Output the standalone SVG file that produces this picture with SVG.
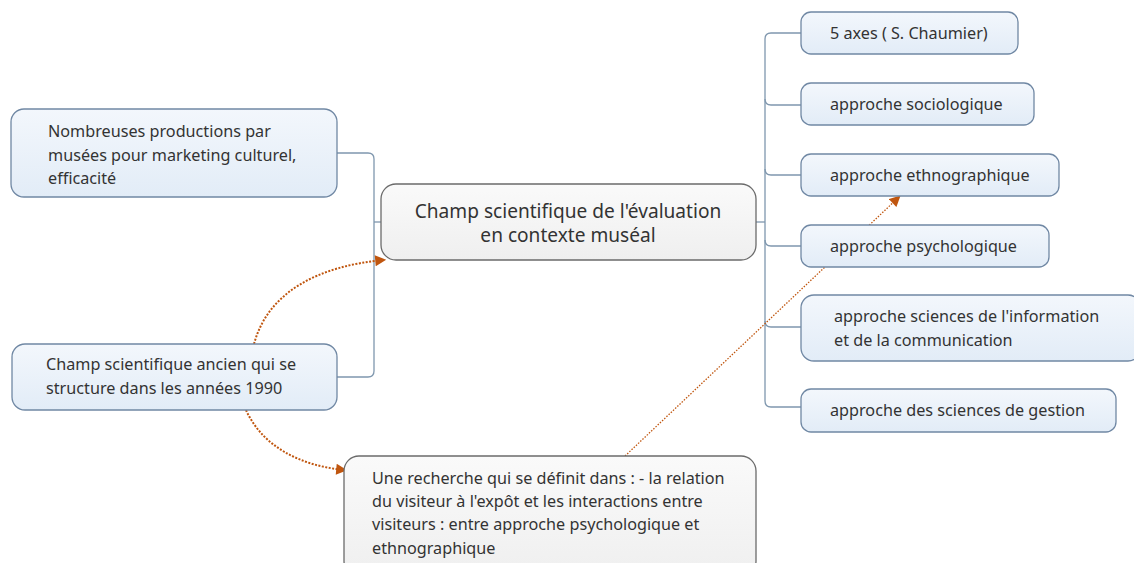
<svg xmlns="http://www.w3.org/2000/svg" width="1134" height="563" viewBox="0 0 1134 563">
<defs>
<linearGradient id="gBlue" x1="0" y1="0" x2="0" y2="1">
<stop offset="0" stop-color="#f3f7fc"/>
<stop offset="1" stop-color="#e2ecf7"/>
</linearGradient>
<linearGradient id="gGray" x1="0" y1="0" x2="0" y2="1">
<stop offset="0" stop-color="#fafafa"/>
<stop offset="1" stop-color="#efefef"/>
</linearGradient>
<marker id="arr" viewBox="0 0 10 10" refX="8" refY="5" markerWidth="12" markerHeight="11" orient="auto" markerUnits="userSpaceOnUse">
<path d="M0,0 L10,5 L0,10 z" fill="#c0560f"/>
</marker>
</defs>
<style>
.blue{fill:url(#gBlue);stroke:#7088a4;stroke-width:1.3}
.gray{fill:url(#gGray);stroke:#6b6b6b;stroke-width:1.3}
.t{font-family:"Noto Sans","Open Sans",sans-serif;font-size:16.2px;fill:#333}
.tc{font-family:"Noto Sans","Open Sans",sans-serif;font-size:19.1px;fill:#333;text-anchor:middle}
.ln{fill:none;stroke:#7f97ae;stroke-width:1.3}
.rel{fill:none;stroke:#c0560f;stroke-width:2;stroke-dasharray:2 1.5}
.relt{fill:none;stroke:#c0560f;stroke-width:1.3;stroke-dasharray:1.5 1.5}
</style>
<rect width="1134" height="563" fill="#ffffff"/>
<g id="connectors">
<path class="ln" d="M337,153 H368 Q374,153 374,159 V371 Q374,377 368,377 H337"/>
<path class="ln" d="M374,222 H381"/>
<path class="ln" d="M756,222 H765"/>
<path class="ln" d="M801,33 H771 Q765,33 765,39 V401 Q765,407 771,407 H801"/>
<path class="ln" d="M765,99 Q765,105 771,105 H801"/>
<path class="ln" d="M765,169 Q765,175 771,175 H801"/>
<path class="ln" d="M765,240 Q765,246 771,246 H801"/>
<path class="ln" d="M765,321 Q765,327 771,327 H801"/>
<path class="rel" d="M254,344 C268,292 318,266 384,260" marker-end="url(#arr)"/>
<path class="rel" d="M246,410 C262,446 300,466 345,470" marker-end="url(#arr)"/>
<path class="relt" d="M625,456 L899,197" marker-end="url(#arr)"/>
</g>
<g id="n-nombreuses">
<rect class="blue" x="11" y="109" width="326" height="88" rx="13"/>
<text class="t" x="48" y="137">Nombreuses productions par</text>
<text class="t" x="48" y="161">musées pour marketing culturel,</text>
<text class="t" x="48" y="184">efficacité</text>
</g>
<g id="n-central">
<rect class="gray" x="381" y="184" width="375" height="76" rx="15"/>
<text class="tc" x="568" y="218">Champ scientifique de l'évaluation</text>
<text class="tc" x="568" y="242">en contexte muséal</text>
</g>
<g id="n-ancien">
<rect class="blue" x="12" y="344" width="325" height="66" rx="13"/>
<text class="t" x="46" y="370">Champ scientifique ancien qui se</text>
<text class="t" x="46" y="394">structure dans les années 1990</text>
</g>
<g id="n-recherche">
<rect class="gray" x="344" y="456" width="412" height="120" rx="15"/>
<text class="t" x="372" y="484">Une recherche qui se définit dans : - la relation</text>
<text class="t" x="372" y="507">du visiteur à l'expôt et les interactions entre</text>
<text class="t" x="372" y="530">visiteurs : entre approche psychologique et</text>
<text class="t" x="372" y="554">ethnographique</text>
</g>
<g id="n-axes">
<rect class="blue" x="801" y="12" width="217" height="42" rx="10"/>
<text class="t" x="830" y="39">5 axes ( S. Chaumier)</text>
</g>
<g id="n-socio">
<rect class="blue" x="801" y="83" width="233" height="42" rx="10"/>
<text class="t" x="830" y="110">approche sociologique</text>
</g>
<g id="n-ethno">
<rect class="blue" x="801" y="154" width="258" height="42" rx="10"/>
<text class="t" x="830" y="181">approche ethnographique</text>
</g>
<g id="n-psycho">
<rect class="blue" x="801" y="225" width="248" height="42" rx="10"/>
<text class="t" x="830" y="252">approche psychologique</text>
</g>
<g id="n-sic">
<rect class="blue" x="801" y="295" width="340" height="66" rx="13"/>
<text class="t" x="834" y="322">approche sciences de l'information</text>
<text class="t" x="834" y="346">et de la communication</text>
</g>
<g id="n-gestion">
<rect class="blue" x="801" y="389" width="315" height="43" rx="10"/>
<text class="t" x="830" y="416">approche des sciences de gestion</text>
</g>
</svg>
